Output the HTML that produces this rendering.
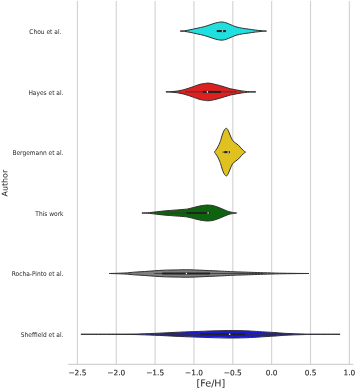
<!DOCTYPE html>
<html><head><meta charset="utf-8"><title>Violin plot</title>
<style>html,body{margin:0;padding:0;background:#fff}svg{display:block}text{text-rendering:geometricPrecision}</style></head>
<body>
<svg width="355" height="389" viewBox="0 0 355 389">
<rect width="355" height="389" fill="#fff"/>
<line x1="77.40" y1="1" x2="77.40" y2="364" stroke="#d2d2d2" stroke-width="1.1"/>
<line x1="116.25" y1="1" x2="116.25" y2="364" stroke="#d2d2d2" stroke-width="1.1"/>
<line x1="155.10" y1="1" x2="155.10" y2="364" stroke="#d2d2d2" stroke-width="1.1"/>
<line x1="193.95" y1="1" x2="193.95" y2="364" stroke="#d2d2d2" stroke-width="1.1"/>
<line x1="232.80" y1="1" x2="232.80" y2="364" stroke="#d2d2d2" stroke-width="1.1"/>
<line x1="271.65" y1="1" x2="271.65" y2="364" stroke="#d2d2d2" stroke-width="1.1"/>
<line x1="310.50" y1="1" x2="310.50" y2="364" stroke="#d2d2d2" stroke-width="1.1"/>
<line x1="349.35" y1="1" x2="349.35" y2="364" stroke="#d2d2d2" stroke-width="1.1"/>
<line x1="68" y1="364.4" x2="353.3" y2="364.4" stroke="#d2d2d2" stroke-width="1.1"/>
<path d="M180.20 31.07C180.92 31.02 182.85 31.01 184.50 30.79C186.15 30.57 188.00 30.19 190.10 29.77C192.20 29.35 194.75 28.79 197.10 28.27C199.45 27.75 202.08 27.24 204.20 26.67C206.32 26.10 207.93 25.48 209.80 24.87C211.67 24.26 213.78 23.47 215.40 23.02C217.02 22.57 218.40 22.34 219.50 22.17C220.60 22.00 221.17 21.99 222.00 22.02C222.83 22.05 223.42 22.09 224.50 22.37C225.58 22.65 227.13 23.19 228.50 23.72C229.87 24.25 231.30 25.01 232.70 25.57C234.10 26.13 235.27 26.62 236.90 27.07C238.53 27.52 240.62 27.94 242.50 28.27C244.38 28.60 246.08 28.77 248.20 29.07C250.32 29.37 252.85 29.78 255.20 30.07C257.55 30.36 260.42 30.62 262.30 30.79C264.18 30.96 265.80 31.02 266.50 31.07C265.80 31.12 264.18 31.18 262.30 31.35C260.42 31.52 257.55 31.78 255.20 32.07C252.85 32.36 250.32 32.77 248.20 33.07C246.08 33.37 244.38 33.54 242.50 33.87C240.62 34.20 238.53 34.62 236.90 35.07C235.27 35.52 234.10 36.01 232.70 36.57C231.30 37.13 229.87 37.89 228.50 38.42C227.13 38.95 225.58 39.49 224.50 39.77C223.42 40.05 222.83 40.09 222.00 40.12C221.17 40.15 220.60 40.14 219.50 39.97C218.40 39.80 217.02 39.57 215.40 39.12C213.78 38.67 211.67 37.88 209.80 37.27C207.93 36.66 206.32 36.04 204.20 35.47C202.08 34.90 199.45 34.39 197.10 33.87C194.75 33.35 192.20 32.79 190.10 32.37C188.00 31.95 186.15 31.57 184.50 31.35C182.85 31.13 180.92 31.12 180.20 31.07Z" fill="#20dfdf" stroke="#303030" stroke-width="1.00" stroke-linejoin="round"/>
<line x1="216.80" y1="31.07" x2="225.90" y2="31.07" stroke="#333" stroke-width="0.8"/>
<line x1="216.80" y1="31.07" x2="225.90" y2="31.07" stroke="#222" stroke-width="2.05"/>
<circle cx="222.50" cy="31.07" r="0.8" fill="#fff"/>
<path d="M165.90 91.90C166.90 91.85 169.97 91.77 171.90 91.62C173.83 91.48 175.63 91.32 177.50 91.03C179.37 90.74 181.22 90.37 183.10 89.90C184.98 89.43 186.92 88.81 188.80 88.20C190.68 87.59 192.53 86.90 194.40 86.25C196.27 85.60 198.12 84.79 200.00 84.30C201.88 83.81 204.37 83.50 205.70 83.30C207.03 83.10 207.20 83.10 208.00 83.10C208.80 83.10 209.57 83.15 210.50 83.30C211.43 83.45 212.13 83.65 213.60 84.00C215.07 84.35 217.42 84.88 219.30 85.40C221.18 85.92 223.03 86.53 224.90 87.10C226.77 87.67 228.62 88.33 230.50 88.80C232.38 89.27 234.32 89.55 236.20 89.90C238.08 90.25 239.93 90.62 241.80 90.90C243.67 91.18 245.75 91.41 247.40 91.55C249.05 91.69 250.28 91.69 251.70 91.75C253.12 91.81 255.20 91.88 255.90 91.90C255.20 91.93 253.12 91.99 251.70 92.05C250.28 92.11 249.05 92.11 247.40 92.25C245.75 92.39 243.67 92.62 241.80 92.90C239.93 93.18 238.08 93.55 236.20 93.90C234.32 94.25 232.38 94.53 230.50 95.00C228.62 95.47 226.77 96.13 224.90 96.70C223.03 97.27 221.18 97.88 219.30 98.40C217.42 98.92 215.07 99.45 213.60 99.80C212.13 100.15 211.43 100.35 210.50 100.50C209.57 100.65 208.80 100.70 208.00 100.70C207.20 100.70 207.03 100.70 205.70 100.50C204.37 100.30 201.88 99.99 200.00 99.50C198.12 99.01 196.27 98.20 194.40 97.55C192.53 96.90 190.68 96.21 188.80 95.60C186.92 94.99 184.98 94.37 183.10 93.90C181.22 93.43 179.37 93.06 177.50 92.77C175.63 92.48 173.83 92.33 171.90 92.18C169.97 92.04 166.90 91.95 165.90 91.90Z" fill="#df2020" stroke="#303030" stroke-width="1.00" stroke-linejoin="round"/>
<line x1="185.20" y1="91.90" x2="236.90" y2="91.90" stroke="#333" stroke-width="0.8"/>
<line x1="202.80" y1="91.90" x2="221.00" y2="91.90" stroke="#222" stroke-width="2.05"/>
<circle cx="207.40" cy="91.90" r="0.8" fill="#fff"/>
<path d="M214.40 152.10C214.45 152.02 214.50 151.87 214.70 151.60C214.90 151.33 215.27 150.95 215.60 150.50C215.93 150.05 216.32 149.52 216.70 148.90C217.08 148.28 217.51 147.53 217.90 146.80C218.29 146.07 218.72 145.20 219.04 144.50C219.36 143.80 219.54 143.25 219.80 142.60C220.06 141.95 220.33 141.40 220.60 140.60C220.87 139.80 221.13 138.72 221.40 137.80C221.67 136.88 221.93 135.92 222.20 135.10C222.47 134.28 222.74 133.57 223.00 132.90C223.26 132.23 223.50 131.65 223.77 131.10C224.04 130.55 224.33 130.00 224.60 129.60C224.87 129.20 225.12 128.92 225.40 128.70C225.68 128.48 225.98 128.27 226.30 128.30C226.62 128.33 226.98 128.53 227.30 128.90C227.62 129.27 227.90 129.88 228.20 130.50C228.50 131.12 228.78 131.83 229.10 132.60C229.42 133.37 229.77 134.30 230.10 135.10C230.43 135.90 230.75 136.70 231.07 137.40C231.39 138.10 231.67 138.72 232.00 139.30C232.33 139.88 232.67 140.43 233.04 140.90C233.41 141.37 233.81 141.77 234.20 142.10C234.59 142.43 234.93 142.57 235.40 142.90C235.87 143.23 236.47 143.70 237.00 144.10C237.53 144.50 238.03 144.80 238.56 145.30C239.09 145.80 239.68 146.52 240.20 147.10C240.72 147.68 241.17 148.23 241.70 148.80C242.23 149.37 242.87 150.02 243.40 150.50C243.93 150.98 244.53 151.43 244.90 151.70C245.27 151.97 245.48 152.03 245.60 152.10C245.48 152.17 245.27 152.23 244.90 152.50C244.53 152.77 243.93 153.22 243.40 153.70C242.87 154.18 242.23 154.83 241.70 155.40C241.17 155.97 240.72 156.52 240.20 157.10C239.68 157.68 239.09 158.40 238.56 158.90C238.03 159.40 237.53 159.70 237.00 160.10C236.47 160.50 235.87 160.97 235.40 161.30C234.93 161.63 234.59 161.77 234.20 162.10C233.81 162.43 233.41 162.83 233.04 163.30C232.67 163.77 232.33 164.32 232.00 164.90C231.67 165.48 231.39 166.10 231.07 166.80C230.75 167.50 230.43 168.30 230.10 169.10C229.77 169.90 229.42 170.83 229.10 171.60C228.78 172.37 228.50 173.08 228.20 173.70C227.90 174.32 227.62 174.93 227.30 175.30C226.98 175.67 226.62 175.87 226.30 175.90C225.98 175.93 225.68 175.72 225.40 175.50C225.12 175.28 224.87 175.00 224.60 174.60C224.33 174.20 224.04 173.65 223.77 173.10C223.50 172.55 223.26 171.97 223.00 171.30C222.74 170.63 222.47 169.92 222.20 169.10C221.93 168.28 221.67 167.32 221.40 166.40C221.13 165.48 220.87 164.40 220.60 163.60C220.33 162.80 220.06 162.25 219.80 161.60C219.54 160.95 219.36 160.40 219.04 159.70C218.72 159.00 218.29 158.13 217.90 157.40C217.51 156.67 217.08 155.92 216.70 155.30C216.32 154.68 215.93 154.15 215.60 153.70C215.27 153.25 214.90 152.87 214.70 152.60C214.50 152.33 214.45 152.18 214.40 152.10Z" fill="#dfc120" stroke="#303030" stroke-width="1.00" stroke-linejoin="round"/>
<line x1="222.30" y1="152.10" x2="230.00" y2="152.10" stroke="#333" stroke-width="0.8"/>
<line x1="224.30" y1="152.10" x2="229.90" y2="152.10" stroke="#222" stroke-width="2.05"/>
<circle cx="228.10" cy="152.10" r="0.8" fill="#fff"/>
<path d="M141.90 213.00C143.13 212.94 146.90 212.84 149.30 212.65C151.70 212.46 153.95 212.12 156.30 211.85C158.65 211.57 161.05 211.23 163.40 211.00C165.75 210.77 168.07 210.63 170.40 210.45C172.73 210.27 175.05 210.09 177.40 209.90C179.75 209.71 182.73 209.47 184.50 209.30C186.27 209.13 186.48 209.20 188.00 208.90C189.52 208.60 191.72 207.97 193.60 207.50C195.48 207.03 197.42 206.48 199.30 206.10C201.18 205.72 203.38 205.38 204.90 205.20C206.42 205.02 206.98 204.98 208.40 205.05C209.82 205.12 211.63 205.23 213.40 205.65C215.17 206.07 217.13 206.89 219.00 207.60C220.87 208.31 222.97 209.23 224.60 209.90C226.23 210.57 227.50 211.18 228.80 211.60C230.10 212.02 231.10 212.17 232.40 212.40C233.70 212.63 235.90 212.90 236.60 213.00C235.90 213.10 233.70 213.37 232.40 213.60C231.10 213.83 230.10 213.98 228.80 214.40C227.50 214.82 226.23 215.43 224.60 216.10C222.97 216.77 220.87 217.69 219.00 218.40C217.13 219.11 215.17 219.93 213.40 220.35C211.63 220.77 209.82 220.88 208.40 220.95C206.98 221.02 206.42 220.98 204.90 220.80C203.38 220.62 201.18 220.28 199.30 219.90C197.42 219.52 195.48 218.97 193.60 218.50C191.72 218.03 189.52 217.40 188.00 217.10C186.48 216.80 186.27 216.87 184.50 216.70C182.73 216.53 179.75 216.29 177.40 216.10C175.05 215.91 172.73 215.73 170.40 215.55C168.07 215.37 165.75 215.23 163.40 215.00C161.05 214.77 158.65 214.43 156.30 214.15C153.95 213.88 151.70 213.54 149.30 213.35C146.90 213.16 143.13 213.06 141.90 213.00Z" fill="#0e640e" stroke="#303030" stroke-width="1.00" stroke-linejoin="round"/>
<line x1="166.90" y1="213.00" x2="209.80" y2="213.00" stroke="#333" stroke-width="0.8"/>
<line x1="186.60" y1="213.00" x2="209.80" y2="213.00" stroke="#222" stroke-width="2.05"/>
<circle cx="208.10" cy="213.00" r="0.8" fill="#fff"/>
<path d="M109.30 273.50C111.87 273.42 120.48 273.22 124.70 272.99C128.92 272.76 131.32 272.39 134.60 272.15C137.88 271.91 141.12 271.77 144.40 271.55C147.68 271.33 151.00 271.03 154.30 270.80C157.60 270.57 160.75 270.34 164.20 270.20C167.65 270.06 170.75 270.02 175.00 269.95C179.25 269.88 183.97 269.69 189.70 269.80C195.43 269.91 204.13 270.38 209.40 270.60C214.67 270.83 217.35 270.96 221.30 271.15C225.25 271.34 229.98 271.62 233.10 271.75C236.22 271.88 236.88 271.85 240.00 271.95C243.12 272.05 247.85 272.22 251.80 272.35C255.75 272.48 259.10 272.62 263.70 272.75C268.30 272.88 274.18 273.06 279.40 273.16C284.62 273.26 290.07 273.32 295.00 273.37C299.93 273.43 306.67 273.48 309.00 273.50C306.67 273.52 299.93 273.57 295.00 273.63C290.07 273.68 284.62 273.74 279.40 273.84C274.18 273.94 268.30 274.12 263.70 274.25C259.10 274.38 255.75 274.52 251.80 274.65C247.85 274.78 243.12 274.95 240.00 275.05C236.88 275.15 236.22 275.12 233.10 275.25C229.98 275.38 225.25 275.66 221.30 275.85C217.35 276.04 214.67 276.17 209.40 276.40C204.13 276.62 195.43 277.09 189.70 277.20C183.97 277.31 179.25 277.12 175.00 277.05C170.75 276.98 167.65 276.94 164.20 276.80C160.75 276.66 157.60 276.43 154.30 276.20C151.00 275.97 147.68 275.67 144.40 275.45C141.12 275.23 137.88 275.09 134.60 274.85C131.32 274.61 128.92 274.24 124.70 274.01C120.48 273.78 111.87 273.58 109.30 273.50Z" fill="#808080" stroke="#303030" stroke-width="1.00" stroke-linejoin="round"/>
<line x1="154.30" y1="273.50" x2="264.10" y2="273.50" stroke="#333" stroke-width="0.8"/>
<line x1="162.20" y1="273.50" x2="210.00" y2="273.50" stroke="#222" stroke-width="2.05"/>
<circle cx="186.40" cy="273.50" r="0.8" fill="#fff"/>
<path d="M80.90 334.30C85.75 334.29 101.82 334.27 110.00 334.24C118.18 334.20 125.00 334.16 130.00 334.11C135.00 334.05 135.05 334.07 140.00 333.91C144.95 333.75 153.13 333.44 159.70 333.15C166.27 332.86 172.82 332.44 179.40 332.15C185.98 331.86 194.10 331.59 199.20 331.40C204.30 331.21 205.08 331.13 210.00 331.00C214.92 330.87 222.97 330.63 228.70 330.60C234.43 330.57 239.80 330.67 244.40 330.80C249.00 330.93 252.35 331.18 256.30 331.40C260.25 331.63 264.98 331.96 268.10 332.15C271.22 332.34 272.20 332.35 275.00 332.55C277.80 332.75 281.62 333.15 284.90 333.35C288.18 333.55 291.42 333.63 294.70 333.75C297.98 333.87 301.32 333.97 304.60 334.04C307.88 334.11 308.48 334.13 314.40 334.17C320.32 334.21 335.82 334.28 340.10 334.30C335.82 334.32 320.32 334.39 314.40 334.43C308.48 334.47 307.88 334.49 304.60 334.56C301.32 334.63 297.98 334.74 294.70 334.85C291.42 334.97 288.18 335.05 284.90 335.25C281.62 335.45 277.80 335.85 275.00 336.05C272.20 336.25 271.22 336.26 268.10 336.45C264.98 336.64 260.25 336.97 256.30 337.20C252.35 337.43 249.00 337.67 244.40 337.80C239.80 337.93 234.43 338.03 228.70 338.00C222.97 337.97 214.92 337.73 210.00 337.60C205.08 337.47 204.30 337.39 199.20 337.20C194.10 337.01 185.98 336.74 179.40 336.45C172.82 336.16 166.27 335.74 159.70 335.45C153.13 335.16 144.95 334.85 140.00 334.69C135.05 334.53 135.00 334.55 130.00 334.50C125.00 334.44 118.18 334.40 110.00 334.37C101.82 334.33 85.75 334.31 80.90 334.30Z" fill="#1a1ada" stroke="#303030" stroke-width="1.00" stroke-linejoin="round"/>
<line x1="149.90" y1="334.30" x2="291.80" y2="334.30" stroke="#333" stroke-width="0.8"/>
<line x1="200.20" y1="334.30" x2="245.40" y2="334.30" stroke="#222" stroke-width="2.05"/>
<circle cx="229.70" cy="334.30" r="0.8" fill="#fff"/>
<text transform="translate(61.40,33.99) rotate(0.03) scale(0.908,1)" text-anchor="end" font-size="6.5" fill="#262626" font-family="DejaVu Sans, Liberation Sans, sans-serif">Chou et al.</text>
<text transform="translate(63.50,94.52) rotate(0.03) scale(0.908,1)" text-anchor="end" font-size="6.5" fill="#262626" font-family="DejaVu Sans, Liberation Sans, sans-serif">Hayes et al.</text>
<text transform="translate(63.50,155.02) rotate(0.03) scale(0.908,1)" text-anchor="end" font-size="6.5" fill="#262626" font-family="DejaVu Sans, Liberation Sans, sans-serif">Bergemann et al.</text>
<text transform="translate(63.50,215.57) rotate(0.03) scale(0.908,1)" text-anchor="end" font-size="6.5" fill="#262626" font-family="DejaVu Sans, Liberation Sans, sans-serif">This work</text>
<text transform="translate(63.50,275.95) rotate(0.03) scale(0.908,1)" text-anchor="end" font-size="6.5" fill="#262626" font-family="DejaVu Sans, Liberation Sans, sans-serif">Rocha-Pinto et al.</text>
<text transform="translate(63.50,336.82) rotate(0.03) scale(0.908,1)" text-anchor="end" font-size="6.5" fill="#262626" font-family="DejaVu Sans, Liberation Sans, sans-serif">Sheffield et al.</text>
<text transform="translate(77.40,375.3) rotate(0.03)" text-anchor="middle" font-size="7.4" fill="#262626" stroke="#262626" stroke-width="0.12" font-family="DejaVu Sans, Liberation Sans, sans-serif">−2.5</text>
<text transform="translate(116.25,375.3) rotate(0.03)" text-anchor="middle" font-size="7.4" fill="#262626" stroke="#262626" stroke-width="0.12" font-family="DejaVu Sans, Liberation Sans, sans-serif">−2.0</text>
<text transform="translate(155.10,375.3) rotate(0.03)" text-anchor="middle" font-size="7.4" fill="#262626" stroke="#262626" stroke-width="0.12" font-family="DejaVu Sans, Liberation Sans, sans-serif">−1.5</text>
<text transform="translate(193.95,375.3) rotate(0.03)" text-anchor="middle" font-size="7.4" fill="#262626" stroke="#262626" stroke-width="0.12" font-family="DejaVu Sans, Liberation Sans, sans-serif">−1.0</text>
<text transform="translate(232.80,375.3) rotate(0.03)" text-anchor="middle" font-size="7.4" fill="#262626" stroke="#262626" stroke-width="0.12" font-family="DejaVu Sans, Liberation Sans, sans-serif">−0.5</text>
<text transform="translate(271.65,375.3) rotate(0.03)" text-anchor="middle" font-size="7.4" fill="#262626" stroke="#262626" stroke-width="0.12" font-family="DejaVu Sans, Liberation Sans, sans-serif">0.0</text>
<text transform="translate(310.50,375.3) rotate(0.03)" text-anchor="middle" font-size="7.4" fill="#262626" stroke="#262626" stroke-width="0.12" font-family="DejaVu Sans, Liberation Sans, sans-serif">0.5</text>
<text transform="translate(349.35,375.3) rotate(0.03)" text-anchor="middle" font-size="7.4" fill="#262626" stroke="#262626" stroke-width="0.12" font-family="DejaVu Sans, Liberation Sans, sans-serif">1.0</text>
<text transform="translate(210.9,386.6) rotate(0.03)" text-anchor="middle" font-size="9.6" fill="#262626" font-family="DejaVu Sans, Liberation Sans, sans-serif">[Fe/H]</text>
<text transform="translate(7.6,183.1) rotate(-89.97)" text-anchor="middle" font-size="7.9" fill="#262626" font-family="DejaVu Sans, Liberation Sans, sans-serif">Author</text>
</svg>
</body></html>
